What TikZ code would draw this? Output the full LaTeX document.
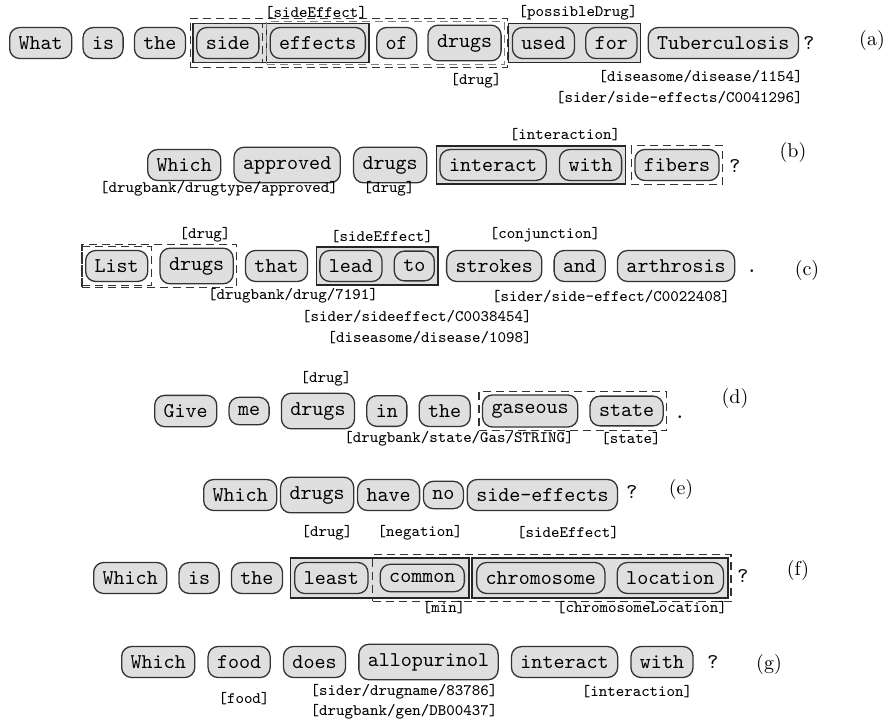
\documentclass[tikz,border=0pt]{standalone}
\usetikzlibrary{positioning,fit,backgrounds}
\tikzset{
  tok/.style={draw=black!80, fill=gray!25, rounded corners=5pt, line width=0.65pt,
    inner sep=4.5pt, font=\fontsize{10.5}{12}\selectfont\ttfamily},
  lab/.style={inner sep=0pt, font=\fontsize{8}{9.6}\selectfont\ttfamily},
  punct/.style={inner sep=0pt, font=\fontsize{10.5}{12}\selectfont\ttfamily},
  tagl/.style={inner sep=0pt, font=\fontsize{10}{12}\selectfont\rmfamily},
  grp/.style={draw=black!85, fill=gray!25, line width=0.65pt, inner sep=1.5pt},
  grpline/.style={draw=black!85, line width=0.65pt, inner sep=1.5pt},
  dgrp/.style={draw=black!80, dash pattern=on 4pt off 2.5pt, line width=0.6pt, inner sep=1.5pt},
  ggrp/.style={dgrp, draw=black!50},
}
\begin{document}
\begin{tikzpicture}[x=0.5pt,y=-0.5pt]
\useasboundingbox (0,0) rectangle (895,724);

% ---------- row (a)
\node[tok,anchor=west] (a1) at (9,43) {What};
\node[tok,right=5pt of a1] (a2) {is};
\node[tok,right=5pt of a2] (a3) {the};
\node[tok,right=5pt of a3] (a4) {side};
\node[tok,right=5pt of a4] (a5) {effects};
\node[tok,right=5pt of a5] (a6) {of};
\node[tok,right=5pt of a6] (a7) {drugs};
\node[tok,right=5pt of a7] (a8) {used};
\node[tok,right=5pt of a8] (a9) {for};
\node[tok,right=5pt of a9] (a10) {Tuberculosis};
\node[punct] (aq) at (809,43) {?};
\node[tagl] (at) at (872,40) {(a)};
\node[lab] (al1) at (316,13) {[sideEffect]};
\node[lab] (al2) at (578,13) {[possibleDrug]};
\node[lab] (al3) at (476,81) {[drug]};
\node[lab,anchor=east] (al4) at (803,77) {[diseasome/disease/1154]};
\node[lab,anchor=east] (al5) at (803,98) {[sider/side-effects/C0041296]};

% ---------- row (b)
\node[tok,anchor=west] (b1) at (147,165) {Which};
\node[tok,right=6pt of b1] (b2) {approved};
\node[tok,right=6pt of b2] (b3) {drugs};
\node[tok,right=6pt of b3] (b4) {interact};
\node[tok,right=6pt of b4] (b5) {with};
\node[tok,right=6pt of b5] (b6) {fibers};
\node[punct] (bq) at (735,166) {?};
\node[tagl] (bt) at (793,152) {(b)};
\node[lab] (bl1) at (565,135) {[interaction]};
\node[lab] (bl2) at (219,189) {[drugbank/drugtype/approved]};
\node[lab] (bl3) at (389,189) {[drug]};

% ---------- row (c)
\node[tok,anchor=west] (c1) at (85,266) {List};
\node[tok,right=5.5pt of c1] (c2) {drugs};
\node[tok,right=5.5pt of c2] (c3) {that};
\node[tok,right=5.5pt of c3] (c4) {lead};
\node[tok,right=5.5pt of c4] (c5) {to};
\node[tok,right=5.5pt of c5] (c6) {strokes};
\node[tok,right=5.5pt of c6] (c7) {and};
\node[tok,right=5.5pt of c7] (c8) {arthrosis};
\node[punct] (cq) at (752,271) {.};
\node[tagl] (ct) at (807,270) {(c)};
\node[lab] (cl1) at (205,235) {[drug]};
\node[lab] (cl2) at (382,237) {[sideEffect]};
\node[lab] (cl3) at (545,235) {[conjunction]};
\node[lab] (cl4) at (293,296) {[drugbank/drug/7191]};
\node[lab] (cl5) at (611,297) {[sider/side-effect/C0022408]};
\node[lab,anchor=east] (cl6) at (532,317) {[sider/sideeffect/C0038454]};
\node[lab,anchor=east] (cl7) at (532,338) {[diseasome/disease/1098]};

% ---------- row (d)
\node[tok,anchor=west] (d1) at (154,411) {Give};
\node[tok,right=5.5pt of d1] (d2) {me};
\node[tok,right=5.5pt of d2] (d3) {drugs};
\node[tok,right=5.5pt of d3] (d4) {in};
\node[tok,right=5.5pt of d4] (d5) {the};
\node[tok,right=5.5pt of d5] (d6) {gaseous};
\node[tok,right=5.5pt of d6] (d7) {state};
\node[punct] (dq) at (680,417) {.};
\node[tagl] (dt) at (735,398) {(d)};
\node[lab] (dl1) at (326,379) {[drug]};
\node[lab] (dl2) at (459,439) {[drugbank/state/Gas/STRING]};
\node[lab] (dl3) at (631,439) {[state]};

% ---------- row (e)
\node[tok,anchor=west] (e1) at (203,495) {Which};
\node[tok,right=1.25pt of e1] (e2) {drugs};
\node[tok,right=1.25pt of e2] (e3) {have};
\node[tok,right=1.25pt of e3] (e4) {no};
\node[tok,right=1.25pt of e4] (e5) {side-effects};
\node[punct] (eq) at (632,492) {?};
\node[tagl] (et) at (681,489) {(e)};
\node[lab] (el1) at (327,533) {[drug]};
\node[lab] (el2) at (420,533) {[negation]};
\node[lab] (el3) at (568,533) {[sideEffect]};

% ---------- row (f)
\node[tok,anchor=west] (f1) at (93,578) {Which};
\node[tok,right=5.5pt of f1] (f2) {is};
\node[tok,right=5.5pt of f2] (f3) {the};
\node[tok,right=5.5pt of f3] (f4) {least};
\node[tok,right=5.5pt of f4] (f5) {common};
\node[tok,right=5.5pt of f5] (f6) {chromosome};
\node[tok,right=5.5pt of f6] (f7) {location};
\node[punct] (fq) at (743,576) {?};
\node[tagl] (ft) at (798,570) {(f)};
\node[lab] (fl1) at (444,608) {[min]};
\node[lab] (fl2) at (642,608) {[chromosomeLocation]};

% ---------- row (g)
\node[tok,anchor=west] (g1) at (121,662) {Which};
\node[tok,right=6pt of g1] (g2) {food};
\node[tok,right=6pt of g2] (g3) {does};
\node[tok,right=6pt of g3] (g4) {allopurinol};
\node[tok,right=6pt of g4] (g5) {interact};
\node[tok,right=6pt of g5] (g6) {with};
\node[punct] (gq) at (713,662) {?};
\node[tagl] (gt) at (769,664) {(g)};
\node[lab] (gl1) at (244,699) {[food]};
\node[lab] (gl2) at (404,692) {[sider/drugname/83786]};
\node[lab] (gl3) at (404,712) {[drugbank/gen/DB00437]};
\node[lab] (gl4) at (637,692) {[interaction]};

% ---------- groups
\begin{scope}[on background layer]
  % (a)
  \node[grp, fit=(a4)(a5)] (ga1) {};
  \node[grpline, fit=(a5)] (ga2) {};
  \node[dgrp, fit=(a4)] (ga3) {};
  \node[ggrp, fit=(a5)(a7)] (ga4) {};
  \node[dgrp, inner sep=3pt, fit=(a4)(a7)] (ga5) {};
  \node[grp, fit=(a8)(a9)] (ga6) {};
  % (b)
  \node[grp, fit=(b4)(b5)] (gb1) {};
  \node[dgrp, fit=(b6)] (gb2) {};
  % (c)
  \node[dgrp, fit=(c1)(c2)] (gc1) {};
  \node[dgrp, fit=(c1)] (gc2) {};
  \node[grp, fit=(c4)(c5)] (gc3) {};
  % (d)
  \node[dgrp, fit=(d6)(d7)] (gd1) {};
  % (f)
  \node[grp, inner sep=2pt, fit=(f4)(f5)] (gf1) {};
  \node[grp, inner sep=2pt, fit=(f6)(f7)] (gf2) {};
  \node[dgrp, inner sep=3.5pt, fit=(f5)(f7)] (gf3) {};
\end{scope}
\end{tikzpicture}
\end{document}
